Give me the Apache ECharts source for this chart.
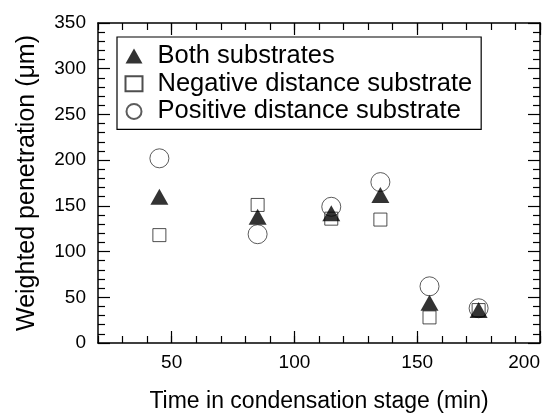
<!DOCTYPE html>
<html>
<head>
<meta charset="utf-8">
<script src="https://cdn.jsdelivr.net/npm/echarts@6/dist/echarts.min.js"></script>
<style>html,body{margin:0;padding:0;background:#fff;}#c{width:544px;height:413px;}</style>
</head>
<body>
<div id="c"></div>
<script>
const times = [45, 85, 115, 135, 155, 175];
const both = [160, 138, 142, 162, 44, 36];
const negative = [118, 151, 136, 135, 28, 36];
const positive = [202, 119, 149, 176, 62, 38];
const xLabels = [50, 100, 150, 200];
const seriesNames = ['Both substrates', 'Negative distance substrate', 'Positive distance substrate'];
const xTitle = 'Time in condensation stage (min)';
const yTitle = 'Weighted penetration (\u03bcm)';

const FONT = '"Liberation Sans", Arial, Helvetica, sans-serif';
const pairs = arr => times.map((t, i) => [t, arr[i]]);

function xAxisPair(pos, withLabels) {
  return [
    {
      type: 'value', min: 20, max: 200, interval: 10, position: pos, offset: 0,
      axisLine: {show: true, onZero: false, lineStyle: {color: '#000', width: 1.5}},
      axisTick: {show: true, inside: true, length: 7, lineStyle: {color: '#000', width: 1.2}},
      axisLabel: withLabels ? {show: true, customValues: xLabels, color: '#000', fontSize: 19, fontFamily: FONT, margin: 10, alignMaxLabel: 'right'} : {show: false},
      splitLine: {show: false},
      name: withLabels ? xTitle : '', nameLocation: 'middle', nameGap: 47,
      nameTextStyle: {color: '#000', fontSize: 23, fontFamily: FONT}
    },
    {
      type: 'value', min: 20, max: 200, position: pos, offset: 0,
      axisLine: {show: false, onZero: false},
      axisTick: {show: true, inside: true, length: 12, customValues: xLabels, lineStyle: {color: '#000', width: 1.2}},
      axisLabel: {show: false},
      splitLine: {show: false}
    }
  ];
}
function yAxis(pos, withLabels) {
  return {
    type: 'value', min: 0, max: 350, interval: 50, position: pos,
    axisLine: {show: true, onZero: false, lineStyle: {color: '#000', width: 1.5}},
    axisTick: {show: true, inside: true, length: 12, lineStyle: {color: '#000', width: 1.2}},
    minorTick: {show: true, splitNumber: 5, length: 7, lineStyle: {color: '#000', width: 1.2}},
    axisLabel: withLabels ? {show: true, color: '#000', fontSize: 19, fontFamily: FONT, margin: 12} : {show: false},
    splitLine: {show: false},
    name: withLabels ? yTitle : '', nameLocation: 'middle', nameGap: 58,
    nameTextStyle: {color: '#000', fontSize: 25, fontFamily: FONT}
  };
}

const chart = echarts.init(document.getElementById('c'), null, {renderer: 'canvas'});
chart.setOption({
  backgroundColor: '#fff',
  animation: false,
  grid: {left: 98, right: 4, top: 23, bottom: 70, containLabel: false, outerBoundsMode: 'none'},
  xAxis: [...xAxisPair('bottom', true), ...xAxisPair('top', false)],
  yAxis: [yAxis('left', true), yAxis('right', false)],
  legend: {
    orient: 'vertical', left: 117, top: 37,
    padding: [6, 9, 5, 7.5],
    itemGap: 1.7, itemWidth: 17, itemHeight: 15,
    borderColor: '#000', borderWidth: 1.2, backgroundColor: '#fff',
    textStyle: {color: '#000', fontSize: 25.5, fontFamily: FONT, lineHeight: 25, padding: [0, 0, 0, 10]},
    selectedMode: false,
    data: seriesNames
  },
  series: [
    {name: seriesNames[1], type: 'scatter', symbol: 'rect', symbolSize: 13, z: 2, xAxisIndex: 0, yAxisIndex: 0,
     itemStyle: {color: 'rgba(255,255,255,0)', borderColor: '#222', borderWidth: 1}, data: pairs(negative)},
    {name: seriesNames[2], type: 'scatter', symbol: 'circle', symbolSize: 19, z: 3, xAxisIndex: 0, yAxisIndex: 0,
     itemStyle: {color: 'rgba(255,255,255,0)', borderColor: '#333', borderWidth: 1}, data: pairs(positive)},
    {name: seriesNames[0], type: 'scatter', symbol: 'triangle', symbolSize: [18, 16], z: 4, xAxisIndex: 0, yAxisIndex: 0,
     itemStyle: {color: '#000'}, data: pairs(both)}
  ]
});
</script>
</body>
</html>
